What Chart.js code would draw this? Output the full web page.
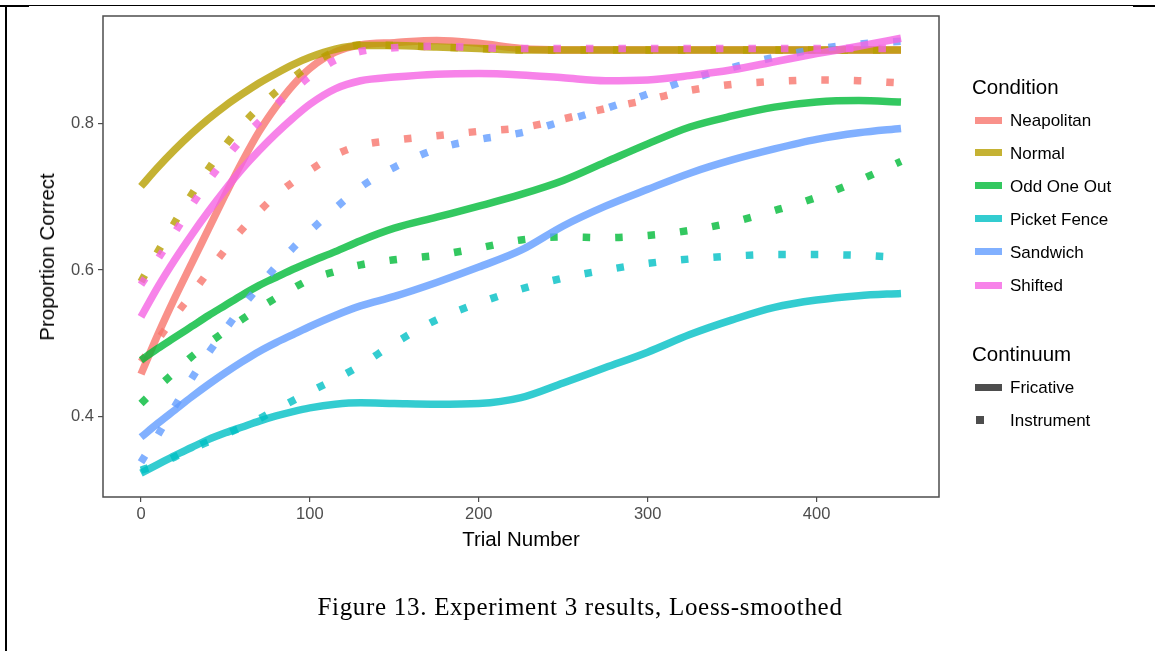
<!DOCTYPE html>
<html><head><meta charset="utf-8">
<script src="https://cdn.jsdelivr.net/npm/chart.js@4/dist/chart.umd.min.js"></script>
<style>
html,body{margin:0;padding:0;background:#fff;}
#wrap{position:relative;width:1155px;height:651px;overflow:hidden;font-family:"Liberation Sans",Arial,sans-serif;color:#000;}
canvas{position:absolute;left:0;top:0;}
.abs{position:absolute;white-space:nowrap;}
.ltitle{font-size:20.5px;line-height:1;}
.litem{font-size:17px;line-height:1;}
.key{position:absolute;width:27px;height:7px;}
</style></head>
<body><div id="wrap">
<canvas id="c" width="1155" height="651"></canvas>
<div class="abs" style="left:0;top:5px;width:29px;height:2px;background:#000"></div>
<div class="abs" style="left:5px;top:5px;width:1150px;height:1px;background:#000"></div>
<div class="abs" style="left:1133px;top:5px;width:22px;height:2px;background:#000"></div>
<div class="abs" style="left:5px;top:5px;width:2px;height:646px;background:#000"></div>
<div id="xtitle" class="abs" style="font-size:20.5px;left:521px;top:539px;transform:translate(-50%,-50%)"></div>
<div id="ytitle" class="abs" style="font-size:20.5px;left:47px;top:257px;transform:translate(-50%,-50%) rotate(-90deg)"></div>
<div id="legend"></div>
<div id="caption" class="abs" style="font-family:'Liberation Serif','Times New Roman',serif;font-size:25px;letter-spacing:0.7px;left:580px;top:607px;transform:translate(-50%,-50%)"></div>
</div>
<script>
// ---- data ----
const trials = [0,10,20,30,40,50,60,70,80,90,100,115,130,150,175,200,225,250,275,300,325,350,375,400,425,450];
const conditions = ['Neapolitan','Normal','Odd One Out','Picket Fence','Sandwich','Shifted'];
const continua = ['Fricative','Instrument'];
const neapolitanFricative = [0.458,0.512,0.562,0.609,0.656,0.703,0.748,0.789,0.823,0.852,0.875,0.897,0.907,0.910,0.913,0.909,0.902,0.900,0.900,0.900,0.900,0.900,0.900,0.900,0.900,0.900];
const neapolitanInstrument = [0.475,0.505,0.537,0.567,0.598,0.628,0.656,0.680,0.702,0.720,0.736,0.757,0.770,0.777,0.783,0.789,0.794,0.806,0.820,0.832,0.845,0.853,0.857,0.859,0.858,0.855];
const normalFricative = [0.714,0.740,0.764,0.786,0.806,0.824,0.840,0.855,0.868,0.880,0.890,0.901,0.906,0.906,0.904,0.902,0.900,0.900,0.900,0.900,0.900,0.900,0.900,0.900,0.900,0.900];
const normalInstrument = [0.584,0.625,0.665,0.703,0.738,0.770,0.798,0.822,0.843,0.862,0.879,0.898,0.907,0.906,0.904,0.902,0.900,0.900,0.900,0.900,0.900,0.900,0.900,0.900,0.900,0.900];
const oddOneOutFricative = [0.477,0.493,0.508,0.523,0.538,0.552,0.566,0.579,0.590,0.601,0.611,0.625,0.640,0.657,0.672,0.687,0.703,0.722,0.747,0.772,0.795,0.810,0.822,0.829,0.831,0.829];
const oddOneOutInstrument = [0.418,0.440,0.461,0.482,0.500,0.517,0.533,0.548,0.562,0.575,0.587,0.598,0.607,0.614,0.620,0.630,0.641,0.645,0.644,0.647,0.654,0.665,0.681,0.699,0.722,0.748];
const picketFenceFricative = [0.323,0.335,0.347,0.358,0.369,0.378,0.386,0.394,0.401,0.407,0.412,0.417,0.419,0.418,0.417,0.418,0.426,0.446,0.467,0.488,0.512,0.532,0.549,0.559,0.565,0.568];
const picketFenceInstrument = [0.327,0.335,0.345,0.356,0.366,0.376,0.386,0.397,0.410,0.422,0.434,0.451,0.470,0.500,0.532,0.555,0.574,0.589,0.600,0.609,0.615,0.619,0.621,0.621,0.620,0.617];
const sandwichFricative = [0.372,0.391,0.409,0.427,0.444,0.460,0.475,0.489,0.501,0.512,0.523,0.538,0.551,0.564,0.583,0.604,0.627,0.660,0.687,0.710,0.732,0.750,0.765,0.778,0.787,0.793];
const sandwichInstrument = [0.338,0.375,0.414,0.452,0.487,0.519,0.550,0.578,0.605,0.630,0.653,0.684,0.713,0.740,0.765,0.778,0.787,0.803,0.820,0.840,0.860,0.876,0.890,0.901,0.908,0.912];
const shiftedFricative = [0.536,0.577,0.614,0.648,0.680,0.710,0.738,0.763,0.786,0.807,0.826,0.847,0.858,0.863,0.867,0.868,0.866,0.862,0.858,0.859,0.865,0.873,0.884,0.895,0.905,0.916];
const shiftedInstrument = [0.580,0.615,0.651,0.688,0.722,0.752,0.779,0.802,0.825,0.845,0.864,0.886,0.898,0.903,0.905,0.903,0.902,0.902,0.902,0.902,0.902,0.902,0.902,0.902,0.902,0.902];
const xTickValues = [0,100,200,300,400];
const yTickValues = [0.4,0.6,0.8];
const xAxisTitle = 'Trial Number';
const yAxisTitle = 'Proportion Correct';
const conditionTitle = 'Condition';
const continuumTitle = 'Continuum';
const captionText = 'Figure 13. Experiment 3 results, Loess-smoothed';

// ---- styles ----
const conditionColors = ['rgba(248,118,109,0.8)','rgba(183,159,0,0.8)','rgba(0,186,56,0.8)','rgba(0,191,196,0.8)','rgba(97,156,255,0.8)','rgba(245,100,227,0.8)'];
const seriesByCondition = [
  [neapolitanFricative, neapolitanInstrument],
  [normalFricative, normalInstrument],
  [oddOneOutFricative, oddOneOutInstrument],
  [picketFenceFricative, picketFenceInstrument],
  [sandwichFricative, sandwichInstrument],
  [shiftedFricative, shiftedInstrument]
];

const datasets = [];
seriesByCondition.forEach((pair, ci) => {
  pair.forEach((vals, ki) => {
    datasets.push({
      label: conditions[ci] + ' / ' + continua[ki],
      data: trials.map((t, i) => ({x: t, y: vals[i]})),
      borderColor: conditionColors[ci],
      borderWidth: 7.5,
      borderDash: ki === 1 ? [7.5, 25] : [],
      borderCapStyle: 'butt',
      pointRadius: 0,
      fill: false,
      cubicInterpolationMode: 'monotone'
    });
  });
});
// later series are painted on top (as in the original plot)
datasets.forEach((d, i) => { d.order = datasets.length - i; });

const panelBorder = {
  id: 'panelBorder',
  afterDatasetsDraw(chart) {
    const a = chart.chartArea, ctx = chart.ctx;
    ctx.save();
    ctx.strokeStyle = '#4d4d4d';
    ctx.lineWidth = 1.5;
    ctx.strokeRect(a.left, a.top, a.right - a.left, a.bottom - a.top);
    ctx.restore();
  }
};

const tickFont = {family: "'Liberation Sans', Arial, sans-serif", size: 16.5};
new Chart(document.getElementById('c'), {
  type: 'line',
  data: {datasets},
  options: {
    responsive: false,
    animation: false,
    devicePixelRatio: 1,
    layout: {padding: {left: 0, right: 216, top: 16, bottom: 114}},
    plugins: {legend: {display: false}, tooltip: {enabled: false}},
    scales: {
      x: {
        type: 'linear', min: -22.5, max: 472.5,
        afterBuildTicks: s => { s.ticks = xTickValues.map(v => ({value: v})); },
        afterFit: s => { s.height = 40; },
        border: {display: false},
        grid: {drawOnChartArea: false, drawTicks: true, tickLength: 5, color: '#4d4d4d', lineWidth: 1.2},
        ticks: {color: '#4d4d4d', font: tickFont, padding: 3, maxRotation: 0, callback: v => String(v)}
      },
      y: {
        type: 'linear', min: 0.2905, max: 0.9463,
        afterBuildTicks: s => { s.ticks = yTickValues.map(v => ({value: v})); },
        afterFit: s => { s.width = 103; },
        border: {display: false},
        grid: {drawOnChartArea: false, drawTicks: true, tickLength: 5, color: '#4d4d4d', lineWidth: 1.2},
        ticks: {color: '#4d4d4d', font: tickFont, padding: 4, callback: v => Number(v).toFixed(1)}
      }
    }
  },
  plugins: [panelBorder]
});

// ---- text & legend ----
document.getElementById('xtitle').textContent = xAxisTitle;
document.getElementById('ytitle').textContent = yAxisTitle;
document.getElementById('caption').textContent = captionText;
const lg = document.getElementById('legend');
function addText(cls, txt, left, cy) {
  const d = document.createElement('div');
  d.className = 'abs ' + cls; d.textContent = txt;
  d.style.left = left + 'px'; d.style.top = cy + 'px'; d.style.transform = 'translateY(-50%)';
  lg.appendChild(d);
}
function addKey(left, cy, w, h, color) {
  const d = document.createElement('div');
  d.className = 'key';
  d.style.left = left + 'px'; d.style.top = (cy - h / 2) + 'px';
  d.style.width = w + 'px'; d.style.height = h + 'px'; d.style.background = color;
  lg.appendChild(d);
}
addText('ltitle', conditionTitle, 972, 87);
const itemY = [120, 152.5, 185.5, 218.5, 251.5, 285];
conditions.forEach((c, i) => {
  addKey(975, itemY[i], 27, 7, conditionColors[i]);
  addText('litem', c, 1010, itemY[i]);
});
addText('ltitle', continuumTitle, 972, 354);
addKey(975, 387, 27, 7, '#4d4d4d');
addText('litem', continua[0], 1010, 387);
addKey(976, 419.5, 8, 8, '#4d4d4d');
addText('litem', continua[1], 1010, 419.5);
</script>
</body></html>
